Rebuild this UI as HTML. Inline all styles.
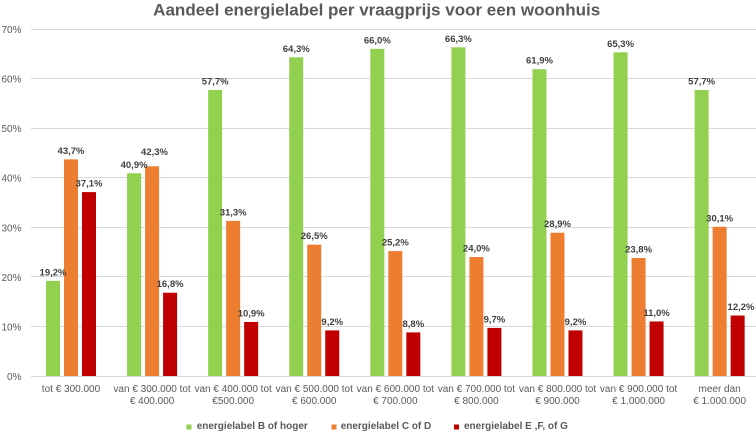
<!DOCTYPE html>
<html><head><meta charset="utf-8"><style>
html,body{margin:0;padding:0;background:#fff;}
svg{display:block;font-family:"Liberation Sans",Arial,sans-serif;}
.t{font-size:10px;fill:#595959;}
.d{font-size:9.5px;font-weight:bold;fill:#404040;text-anchor:middle;}
.x{font-size:10px;fill:#595959;text-anchor:middle;}
.l{font-size:10px;font-weight:bold;fill:#595959;}
</style></head><body>
<svg width="756" height="434" viewBox="0 0 756 434" xmlns="http://www.w3.org/2000/svg">
<rect width="756" height="434" fill="#fff"/>
<text x="376.7" y="15.5" font-size="17" font-weight="bold" fill="#595959" text-anchor="middle" textLength="447" lengthAdjust="spacingAndGlyphs">Aandeel energielabel per vraagprijs voor een woonhuis</text>
<g stroke="#D9D9D9" stroke-width="1">
<line x1="31" x2="756" y1="29.5" y2="29.5"/>
<line x1="31" x2="756" y1="78.5" y2="78.5"/>
<line x1="31" x2="756" y1="128.5" y2="128.5"/>
<line x1="31" x2="756" y1="177.5" y2="177.5"/>
<line x1="31" x2="756" y1="227.5" y2="227.5"/>
<line x1="31" x2="756" y1="276.5" y2="276.5"/>
<line x1="31" x2="756" y1="326.5" y2="326.5"/>
<line x1="31" x2="756" y1="376.5" y2="376.5"/>
</g>
<g class="t" text-anchor="end">
<text x="21.5" y="33">70%</text>
<text x="21.5" y="82.6">60%</text>
<text x="21.5" y="132.2">50%</text>
<text x="21.5" y="181.7">40%</text>
<text x="21.5" y="231.3">30%</text>
<text x="21.5" y="280.9">20%</text>
<text x="21.5" y="330.4">10%</text>
<text x="21.5" y="380">0%</text>
</g>
<g fill="#92D050">
<rect x="46" y="280.83" width="14" height="95.17"/>
<rect x="127.08" y="173.26" width="14" height="202.74"/>
<rect x="208.16" y="89.98" width="14" height="286.02"/>
<rect x="289.24" y="57.26" width="14" height="318.74"/>
<rect x="370.32" y="48.84" width="14" height="327.16"/>
<rect x="451.4" y="47.35" width="14" height="328.65"/>
<rect x="532.48" y="69.16" width="14" height="306.84"/>
<rect x="613.56" y="52.31" width="14" height="323.69"/>
<rect x="694.64" y="89.98" width="14" height="286.02"/>
</g>
<g fill="#ED7D31">
<rect x="64" y="159.38" width="14" height="216.62"/>
<rect x="145.08" y="166.32" width="14" height="209.68"/>
<rect x="226.16" y="220.85" width="14" height="155.15"/>
<rect x="307.24" y="244.64" width="14" height="131.36"/>
<rect x="388.32" y="251.08" width="14" height="124.92"/>
<rect x="469.4" y="257.03" width="14" height="118.97"/>
<rect x="550.48" y="232.74" width="14" height="143.26"/>
<rect x="631.56" y="258.02" width="14" height="117.98"/>
<rect x="712.64" y="226.79" width="14" height="149.21"/>
</g>
<g fill="#C00000">
<rect x="82" y="192.1" width="14" height="183.9"/>
<rect x="163.08" y="292.72" width="14" height="83.28"/>
<rect x="244.16" y="321.97" width="14" height="54.03"/>
<rect x="325.24" y="330.4" width="14" height="45.6"/>
<rect x="406.32" y="332.38" width="14" height="43.62"/>
<rect x="487.4" y="327.92" width="14" height="48.08"/>
<rect x="568.48" y="330.4" width="14" height="45.6"/>
<rect x="649.56" y="321.47" width="14" height="54.53"/>
<rect x="730.64" y="315.52" width="14" height="60.48"/>
</g>
<g class="d">
<text x="53" y="275.3">19,2%</text>
<text x="134.08" y="167.8">40,9%</text>
<text x="215.16" y="84.5">57,7%</text>
<text x="296.24" y="51.8">64,3%</text>
<text x="377.32" y="43.3">66,0%</text>
<text x="458.4" y="41.9">66,3%</text>
<text x="539.48" y="63.7">61,9%</text>
<text x="620.56" y="46.8">65,3%</text>
<text x="701.64" y="84.5">57,7%</text>
<text x="71" y="153.9">43,7%</text>
<text x="154.5" y="155">42,3%</text>
<text x="233.16" y="215.4">31,3%</text>
<text x="314.24" y="239.1">26,5%</text>
<text x="395.32" y="245.6">25,2%</text>
<text x="476.4" y="251.5">24,0%</text>
<text x="557.48" y="227.2">28,9%</text>
<text x="638.56" y="252.5">23,8%</text>
<text x="719.64" y="221.3">30,1%</text>
<text x="89" y="186.6">37,1%</text>
<text x="170.08" y="287.2">16,8%</text>
<text x="251.16" y="316.5">10,9%</text>
<text x="332.24" y="324.9">9,2%</text>
<text x="413.32" y="326.9">8,8%</text>
<text x="494.4" y="322.4">9,7%</text>
<text x="575.48" y="324.9">9,2%</text>
<text x="656.56" y="316">11,0%</text>
<text x="741" y="310">12,2%</text>
</g>
<g class="x">
<text x="71" y="392">tot € 300.000</text>
<text x="152.08" y="392">van € 300.000 tot</text><text x="152.08" y="404">€ 400.000</text>
<text x="233.16" y="392">van € 400.000 tot</text><text x="233.16" y="404">€500.000</text>
<text x="314.24" y="392">van € 500.000 tot</text><text x="314.24" y="404">€ 600.000</text>
<text x="395.32" y="392">van € 600.000 tot</text><text x="395.32" y="404">€ 700.000</text>
<text x="476.4" y="392">van € 700.000 tot</text><text x="476.4" y="404">€ 800.000</text>
<text x="557.48" y="392">van € 800.000 tot</text><text x="557.48" y="404">€ 900.000</text>
<text x="638.56" y="392">van € 900.000 tot</text><text x="638.56" y="404">€ 1.000.000</text>
<text x="719.64" y="392">meer dan</text><text x="719.64" y="404">€ 1.000.000</text>
</g>
<rect x="186.5" y="424.5" width="5" height="5" fill="#92D050"/>
<text class="l" x="196.7" y="429">energielabel B of hoger</text>
<rect x="331.5" y="424.5" width="5" height="5" fill="#ED7D31"/>
<text class="l" x="340.7" y="429">energielabel C of D</text>
<rect x="454" y="424.5" width="5" height="5" fill="#C00000"/>
<text class="l" x="464" y="429">energielabel E ,F, of G</text>
</svg>
</body></html>
